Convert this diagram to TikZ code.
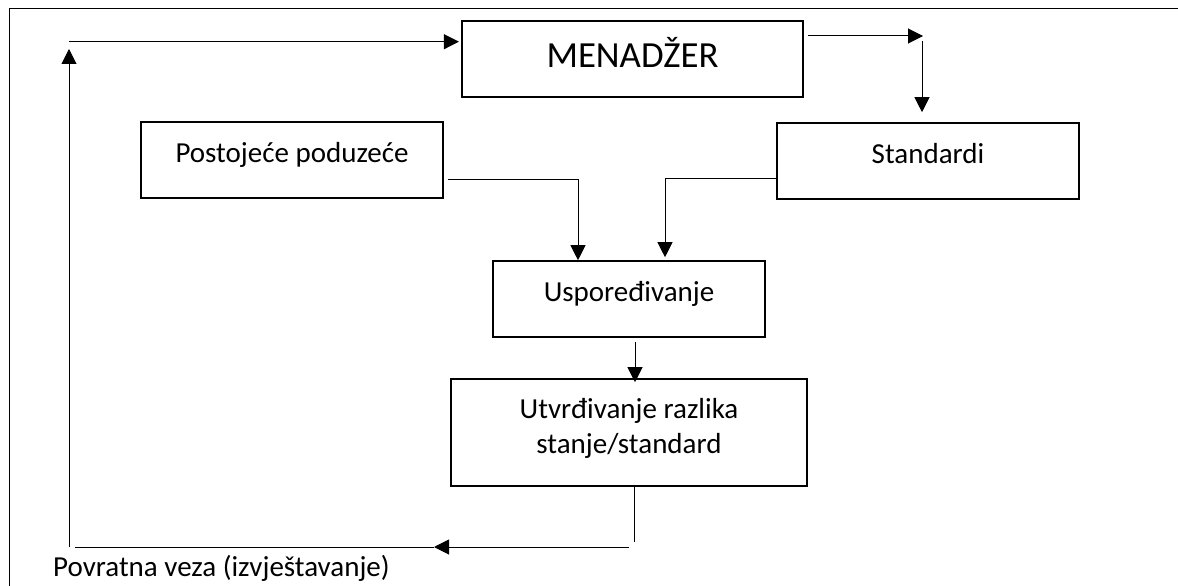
\documentclass[tikz,border=0pt]{standalone}
\usepackage{fontspec}
\setmainfont{Carlito}
\usepackage{tikz}
\usetikzlibrary{calc,arrows.meta}

\begin{document}
\begin{tikzpicture}[x=1pt,y=-1pt,
	>={Triangle[length=15pt,width=15pt]},
	conn/.style={line width=1pt},
	txt/.style={font=\fontsize{29}{35}\selectfont},
	box/.style={draw,line width=1.6pt,inner sep=0pt,minimum height=76pt,txt,text height=19pt,text depth=15pt}]
	\newcommand{\narrowBox}{302pt}

	\useasboundingbox (0,0) rectangle (1178,586);

	% frame
	\draw[line width=1pt] (9,586) -- (9,9) -- (1178,9);

	% boxes
	\node[box,line width=2.2pt,minimum width=341pt,font=\fontsize{36.8}{44}\selectfont,text height=24pt,text depth=6pt] (menadzer) at (632.5,59) {MENADŽER};
	\node[box,minimum width=\narrowBox] (postojece) at (292,160) {Postojeće poduzeće};
	\node[box,minimum width=\narrowBox] (standardi) at (928,161) {Standardi};
	\node[box,minimum width=272pt] (usporedivanje) at (629,299) {Uspoređivanje};
	\node[box,minimum width=356pt,minimum height=107pt,align=center,text height=54pt,text depth=13pt] (razlika) at (629,432.5) {Utvrđivanje razlika\\stanje/standard};

	% menadzer to standardi
	\coordinate (m_turn) at (923,36);
	\draw[conn,->] ($(menadzer.east)+(4,-23)$) -- (m_turn);
	\draw[conn,->] ($(m_turn)+(-1,5)$) -- ($(standardi.north)+(-6,-10)$);

	% inputs to comparison
	\draw[conn,->] ($(postojece.east)+(4,19)$) -| ($(usporedivanje.north)+(-51,0)$);
	\draw[conn,->] ($(standardi.west)+(0,17)$) -| ($(usporedivanje.north)+(36,-3)$);
	\draw[conn,->] ($(usporedivanje.south)+(6,4)$) -- ($(razlika.north)+(6,4)$);

	% feedback
	\coordinate (fb_start) at (629,547);
	\coordinate (fb_mid) at (434,547);
	\coordinate (fb_end) at (75,547);
	\coordinate (fb_left) at (69,547);
	\coordinate (fb_top) at (69,49);
	\coordinate (fb_back) at (69,41.7);
	\draw[conn] ($(razlika.south)+(5,0)$) -- ++(0,55);
	\draw[conn,->] (fb_start) -- (fb_mid);
	\draw[conn] (fb_mid) -- (fb_end);
	\draw[conn,->] (fb_left) -- (fb_top);
	\draw[conn,->] (fb_back) -- ($(menadzer.west)+(-2,-17.3)$);
	\node[txt,anchor=base west,inner sep=0pt] (fb_label) at (53,576) {Povratna veza (izvještavanje)};
\end{tikzpicture}
\end{document}
